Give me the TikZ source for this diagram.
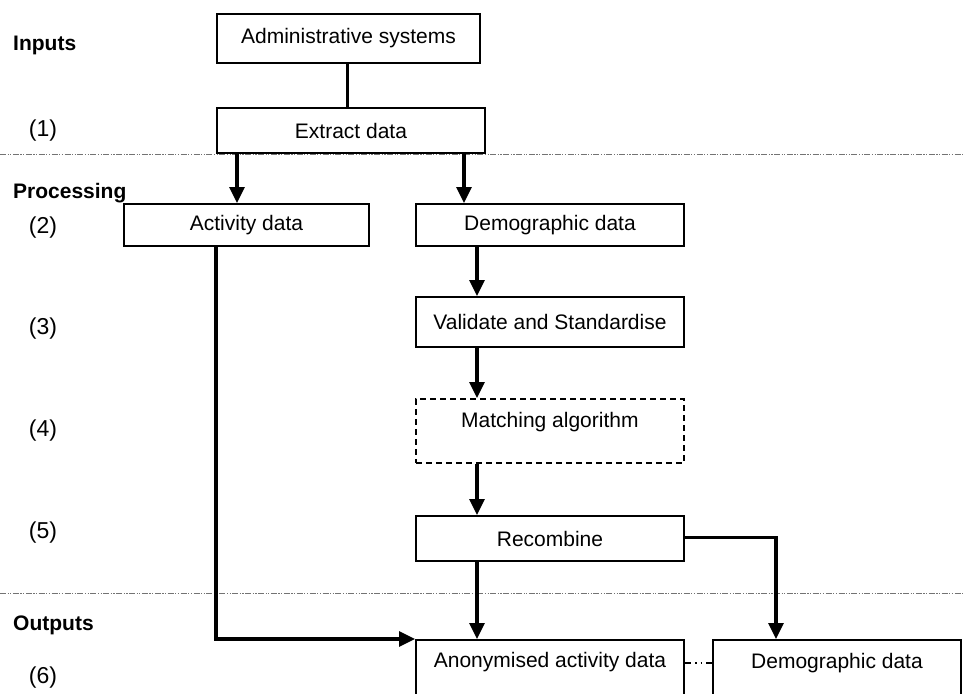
\documentclass[tikz,border=0pt]{standalone}
\usepackage{fontspec}
\setmainfont{Liberation Sans}
\usetikzlibrary{arrows.meta}
\tikzset{
  box/.style={draw, line width=2pt, inner sep=0pt, anchor=north west, font=\fontsize{21}{25}\selectfont},
  dbox/.style={box, line width=1.8pt, dash pattern=on 6pt off 4pt},
  txt/.style={inner sep=0pt, font=\fontsize{21}{25}\selectfont},
  sect/.style={inner sep=0pt, anchor=base west, font=\fontsize{21}{25}\selectfont\bfseries},
  num/.style={inner sep=0pt, font=\fontsize{23}{27}\selectfont},
  arr/.style={line width=3.2pt, -{Triangle[length=16pt,width=15pt]}},
  plain/.style={line width=3.2pt},
  divider/.style={line width=0.9pt, black!55, dash pattern=on 6pt off 1.5pt on 1.2pt off 1.5pt on 1.2pt off 1.5pt},
  link/.style={line width=1.5pt, dash pattern=on 6pt off 4pt on 1.5pt off 4pt on 1.5pt off 4pt}
}
\begin{document}
\begin{tikzpicture}[x=1pt,y=-1pt]
\useasboundingbox (0,0) rectangle (965,693);
\clip (0,0) rectangle (965,693);

% dividers
\draw[divider] (0,154) -- (965,154);
\draw[divider] (0,593) -- (965,593);

% section labels
\node[sect] (lin) at (13,50) {Inputs};
\node[sect] (lproc) at (13,198) {Processing};
\node[sect] (lout) at (13,630) {Outputs};
\node[num] (n1) at (43,131) {(1)};
\node[num] (n2) at (43,228) {(2)};
\node[num] (n3) at (43,329) {(3)};
\node[num] (n4) at (43,431) {(4)};
\node[num] (n5) at (43,533) {(5)};
\node[num] (n6) at (43,678) {(6)};

% boxes
\node[box, minimum width=263pt, minimum height=49pt] (admin) at (216,13) {Administrative systems};
\node[box, minimum width=268pt, minimum height=45pt] (extract) at (216,107) {Extract data};
\node[box, minimum width=245pt, minimum height=42pt] (act) at (123,203) {Activity data};
\node[box, minimum width=268pt, minimum height=42pt] (demo) at (415,203) {Demographic data};
\node[box, minimum width=268pt, minimum height=50pt] (val) at (415,296) {Validate and Standardise};
\node[dbox, minimum width=268pt, minimum height=64pt] (match) at (415,398) {};
\node[txt] (matchtxt) at ([yshift=-24pt]match.north) {Matching algorithm};
\node[box, minimum width=268pt, minimum height=45pt] (rec) at (415,515) {Recombine};
\node[box, minimum width=268pt, minimum height=100pt] (anon) at (415,639) {};
\node[txt] (anontxt) at ([yshift=-23pt]anon.north) {Anonymised activity data};
\node[box, minimum width=248pt, minimum height=100pt] (demo2) at (712,639) {};
\node[txt] (demo2txt) at ([yshift=-24pt]demo2.north) {Demographic data};

% connectors
\draw[plain] ([xshift=-1pt]admin.south) -- ([xshift=-1pt]admin.south |- extract.north);
\draw[arr] ([xshift=21pt]extract.south west) -- ([xshift=21pt]extract.south west |- act.north);
\draw[arr] ([xshift=-22pt]extract.south east) -- ([xshift=-22pt]extract.south east |- demo.north);
\draw[arr] ([xshift=62pt]demo.south west) -- ([xshift=62pt]val.north west);
\draw[arr] ([xshift=62pt]val.south west) -- ([xshift=62pt]match.north west);
\draw[arr] ([xshift=62pt]match.south west) -- ([xshift=62pt]rec.north west);
\draw[arr] ([xshift=62pt]rec.south west) -- ([xshift=62pt]anon.north west);
\draw[arr] (act.south -| extract.west) |- (anon.north west);
\draw[arr] ([yshift=1pt]rec.east) -| ([xshift=64pt]demo2.north west);
\draw[link] ([yshift=-24pt]anon.north east) -- ([yshift=-24pt]demo2.north west);
\end{tikzpicture}
\end{document}
